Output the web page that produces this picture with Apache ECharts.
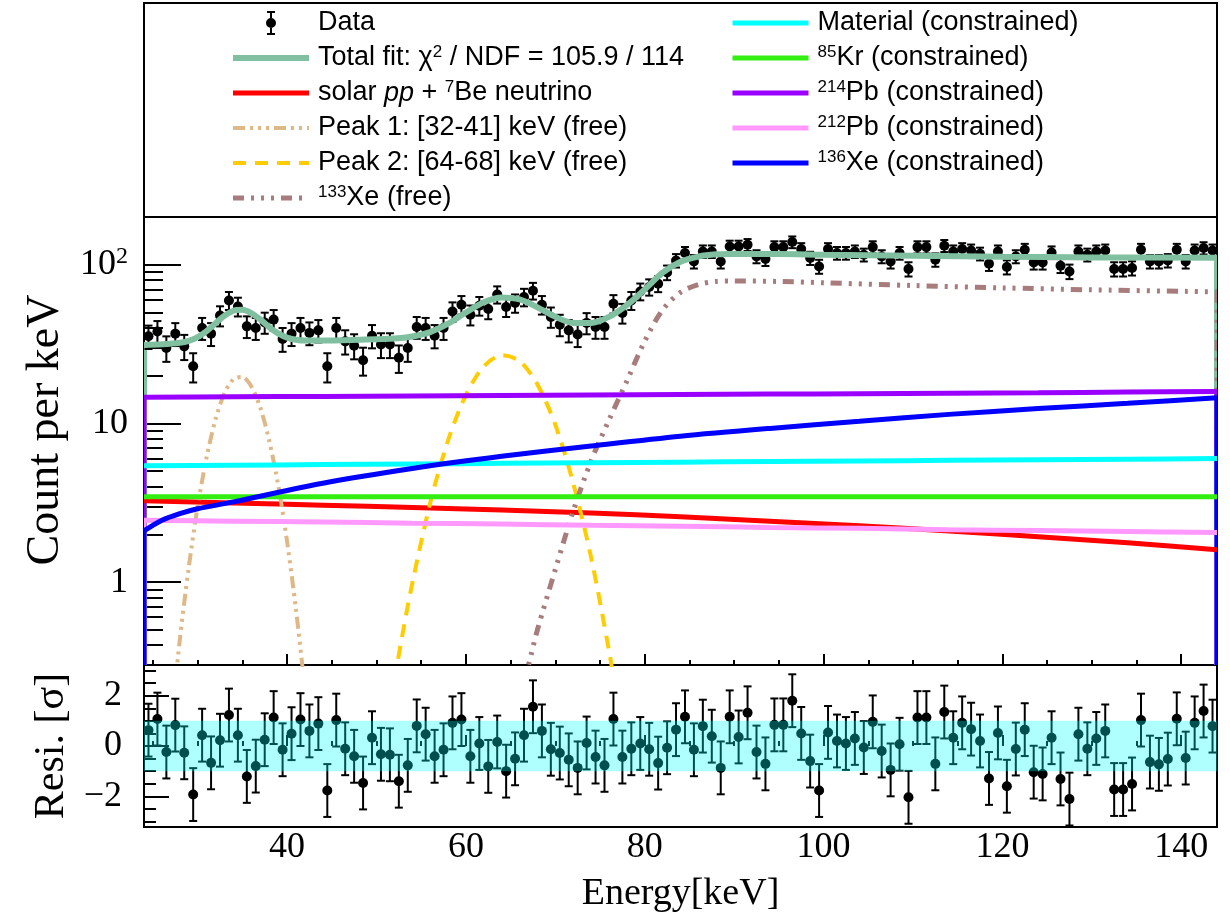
<!DOCTYPE html>
<html>
<head>
<meta charset="utf-8">
<script src="https://cdn.jsdelivr.net/npm/echarts@6/dist/echarts.min.js"></script>
<style>
  html, body { margin: 0; padding: 0; background: #fff; }
  #chart { width: 1230px; height: 916px; }
</style>
</head>
<body>
<div id="chart"></div>
<script>
// Energy binning of the spectrum (1 keV bins from 24 keV)
const binStart = 24;
const binWidth = 1;

// Measured spectrum, count per keV
const counts = [
  35.4, 38.0, 29.9, 36.8, 30.6, 22.9, 39.9, 36.8, 47.8, 59.6,
  54.6, 40.9, 39.9, 43.3, 45.1, 34.1, 36.8, 39.9, 37.2, 38.6,
  22.9, 39.9, 32.9, 30.9, 25.0, 35.7, 31.4, 31.4, 25.9, 29.9,
  40.5, 39.9, 35.7, 39.9, 50.8, 56.0, 48.4, 55.2, 52.6, 65.0,
  54.2, 57.4, 62.6, 68.6, 56.0, 46.9, 41.9, 38.6, 36.3, 43.0,
  40.5, 40.5, 56.8, 49.6, 59.6, 67.9, 72.4, 75.9, 89.4, 106.4,
  118.5, 104.9, 121.3, 121.3, 104.9, 130.4, 130.4, 133.6, 112.8, 108.6,
  129.2, 129.2, 139.0, 125.6, 110.2, 97.6, 125.6, 118.5, 118.5, 121.3,
  115.6, 129.2, 112.8, 104.9, 118.5, 94.0, 129.2, 129.2, 107.5, 131.7,
  121.3, 125.6, 123.0, 117.3, 101.5, 121.3, 96.7, 112.8, 124.3, 103.4,
  103.4, 119.5, 98.6, 90.7, 121.3, 115.6, 121.3, 123.0, 94.0, 94.0,
  95.3, 124.3, 104.9, 104.9, 106.4, 124.3, 104.9, 123.0, 127.4, 123.0
];

// Fit residuals in units of sigma
const residuals = [
  0.63, 1.07, -0.24, 0.83, -0.27, -1.93, 0.43, -0.67, 0.23, 1.23,
  0.43, -1.21, -0.80, 0.25, 1.13, -0.15, 0.49, 1.05, 0.60, 0.89,
  -1.77, 1.03, -0.11, -0.41, -1.47, 0.33, -0.33, -0.35, -1.40, -0.77,
  0.80, 0.47, -0.41, -0.15, 0.92, 1.05, -0.41, 0.10, -0.81, 0.16,
  -1.00, -0.51, 0.43, 1.56, 0.60, -0.13, -0.28, -0.55, -0.87, 0.12,
  -0.44, -0.77, 1.07, -0.44, -0.11, 0.10, -0.13, -0.68, -0.07, 0.65,
  1.16, -0.15, 0.79, 0.39, -0.87, 1.16, 0.36, 1.32, -0.24, -0.71,
  0.84, 0.84, 1.80, 0.50, -0.60, -1.77, 0.54, 0.20, 0.10, 0.30,
  -0.06, 0.96, -0.20, -0.95, 0.07, -2.04, 1.13, 1.13, -0.71, 1.35,
  0.33, 0.92, 0.67, 0.20, -1.29, 0.52, -1.60, -0.12, 0.65, -1.04,
  -1.11, 0.33, -1.31, -2.11, 0.47, -0.11, 0.30, 0.60, -1.73, -1.73,
  -1.51, 1.03, -0.64, -0.73, -0.52, 1.08, -0.48, 0.92, 1.39, 0.79
];
const residualError = 1.05;
const residualBand = [-1, 1];

// Total fit curve
const fitEnergy = [24, 26, 28, 29, 30, 31, 32, 33, 34, 35, 36, 37, 38, 39, 40, 41, 42, 44, 48, 52,
  54, 56, 58, 60, 62, 64, 66, 68, 70, 72, 74, 76, 78, 80, 82, 84, 86, 88, 90, 95, 100, 110, 120, 130, 144];
const fitValues = [31.2, 31.5, 32.2, 33.1, 35.0, 38.2, 42.8, 47.7, 51.3, 52.0, 49.6, 45.2, 40.5, 36.9, 34.7, 33.7, 33.3, 33.3, 33.7, 34.3,
  35.3, 37.6, 42.5, 50.0, 58.0, 62.2, 60.5, 53.9, 47.0, 43.0, 43.0, 46.9, 55.7, 69.9, 89.1, 104.4, 112.6, 116.3, 117.0, 116.9, 115.7, 113.9, 112.3, 111.3, 110.9];

// Free peaks
const peak1Energy = [27, 28, 29, 30, 31, 32, 33, 34, 35, 36, 37, 38, 39, 40, 41, 42];
const peak1Values = [0.12, 0.43, 1.23, 3.0, 6.1, 10.6, 15.5, 19.0, 19.6, 17.1, 12.6, 7.8, 4.1, 1.8, 0.67, 0.21];
const peak2Energy = [52, 53, 54, 56, 58, 60, 62, 64, 66, 68, 70, 72, 74, 76, 77];
const peak2Values = [0.24, 0.5, 0.98, 3.14, 7.8, 15.1, 22.9, 26.9, 24.7, 17.6, 9.8, 4.2, 1.43, 0.37, 0.17];
const xe133Energy = [65, 67, 68, 70, 72, 74, 76, 78, 80, 82, 84, 86, 88, 90, 95, 100, 110, 120, 130, 144];
const xe133Values = [0.12, 0.3, 0.5, 1.2, 2.8, 5.8, 10.5, 18.5, 33, 52, 67, 75, 78.5, 79, 78.5, 77, 74, 71.5, 69.5, 67.5];

// Constrained backgrounds
const bkgEnergy = [24, 34, 44, 54, 64, 74, 84, 94, 104, 114, 124, 134, 144];
const solarValues = [3.25, 3.15, 3.05, 2.95, 2.85, 2.72, 2.58, 2.42, 2.26, 2.10, 1.93, 1.77, 1.60];
const materialValues = [5.40, 5.45, 5.50, 5.55, 5.60, 5.65, 5.70, 5.75, 5.80, 5.85, 5.90, 5.95, 6.00];
const kr85Values = [3.45, 3.45, 3.45, 3.45, 3.45, 3.45, 3.45, 3.45, 3.45, 3.45, 3.45, 3.45, 3.45];
const pb214Values = [14.6, 14.7, 14.8, 14.9, 15.0, 15.1, 15.2, 15.3, 15.4, 15.5, 15.6, 15.75, 15.9];
const pb212Values = [2.45, 2.42, 2.39, 2.35, 2.32, 2.28, 2.25, 2.21, 2.18, 2.14, 2.11, 2.08, 2.05];
const xe136Energy = [24, 26, 28, 30, 34, 44, 54, 64, 74, 84, 94, 104, 114, 124, 134, 144];
const xe136Values = [2.1, 2.45, 2.7, 2.9, 3.2, 4.2, 5.2, 6.2, 7.2, 8.3, 9.3, 10.3, 11.4, 12.4, 13.4, 14.5];

// Axis ticks
const xMajorTicks = [40, 60, 80, 100, 120, 140];
const xMinorTicks = [25, 30, 35, 45, 50, 55, 65, 70, 75, 85, 90, 95, 105, 110, 115, 125, 130, 135];
const yMajorTicks = [1, 10, 100];
const yMinorTicks = [0.4, 0.5, 0.6, 0.7, 0.8, 0.9, 2, 3, 4, 5, 6, 7, 8, 9, 20, 30, 40, 50, 60, 70, 80, 90];
const resMajorTicks = [-2, 0, 2];
const resMinorTicks = [-3, -2.5, -1.5, -1, -0.5, 0.5, 1, 1.5, 2.5, 3];

const SERIF = 'Liberation Serif, Times New Roman, serif';
const SANS = 'Liberation Sans, Arial, Helvetica, sans-serif';

const energies = counts.map((_, i) => binStart + (i + 0.5) * binWidth);
const xMin = binStart;
const xMax = binStart + counts.length * binWidth;

const chart = echarts.init(document.getElementById('chart'), null, { renderer: 'canvas' });

function xAxisDef(gridIndex, ticks, len, withLabels) {
  return {
    type: 'value', gridIndex, min: xMin, max: xMax, position: 'bottom',
    axisLine: { show: false }, splitLine: { show: false },
    axisTick: { show: true, inside: true, length: len, customValues: ticks,
      lineStyle: { color: '#000', width: 2 } },
    axisLabel: withLabels ? {
      customValues: xMajorTicks, fontFamily: SERIF, fontSize: 36, color: '#000', margin: 3
    } : { show: false },
    name: withLabels ? 'Energy[keV]' : '',
    nameLocation: 'middle', nameGap: 48,
    nameTextStyle: { fontFamily: SERIF, fontSize: 38, color: '#000' }
  };
}

function curve(name, xs, ys, color, width, dash) {
  return {
    type: 'line', name, xAxisIndex: 0, yAxisIndex: 0,
    data: xs.map((x, i) => [x, ys[i]]),
    symbol: 'none', smooth: 0.3, clip: true, silent: true,
    lineStyle: { color, width, type: dash || 'solid' },
    itemStyle: { color }
  };
}

// vertical drop of a curve at the edges of the fit range
function edgeDrop(name, xs, ys, color, width, dash) {
  return {
    type: 'custom', name: name + '-edge', xAxisIndex: 0, yAxisIndex: 0, clip: true, silent: true,
    data: [[xs[0], ys[0]], [xs[xs.length - 1], ys[ys.length - 1]]],
    renderItem(params, api) {
      const p = api.coord([api.value(0), api.value(1)]);
      const bottom = params.coordSys.y + params.coordSys.height;
      return {
        type: 'line',
        shape: { x1: p[0], y1: p[1], x2: p[0], y2: bottom },
        style: { stroke: color, lineWidth: width, lineDash: dash || null }
      };
    }
  };
}

function errorMarks(color) {
  return function (params, api) {
    const x = api.value(0);
    const p = api.coord([x, api.value(1)]);
    const lo = api.coord([x, api.value(2)]);
    const hi = api.coord([x, api.value(3)]);
    const cap = 4;
    const st = { stroke: color, lineWidth: 2 };
    return {
      type: 'group',
      children: [
        { type: 'line', shape: { x1: p[0], y1: lo[1], x2: p[0], y2: hi[1] }, style: st },
        { type: 'line', shape: { x1: p[0] - cap, y1: hi[1], x2: p[0] + cap, y2: hi[1] }, style: st },
        { type: 'line', shape: { x1: p[0] - cap, y1: lo[1], x2: p[0] + cap, y2: lo[1] }, style: st },
        { type: 'circle', shape: { cx: p[0], cy: p[1], r: 5 }, style: { fill: color } }
      ]
    };
  };
}

const styles = {
  fit: ['#80c0a0', 6, null],
  solar: ['#ff0000', 5, null],
  peak1: ['#deb887', 4, [12, 5, 3, 5, 3, 5, 3, 5]],
  peak2: ['#ffcc00', 4, [13, 9]],
  xe133: ['#a87c7c', 5, [11, 7, 3, 7, 3, 7, 3, 7]],
  material: ['#00ffff', 5, null],
  kr85: ['#33ee11', 5, null],
  pb214: ['#9900ff', 5, null],
  pb212: ['#ff99ff', 5, null],
  xe136: ['#0000ff', 5, null]
};

const legendText = {
  'Data': 'Data',
  'Total fit': 'Total fit: χ{sup|2} / NDF = 105.9 / 114',
  'solar': 'solar {it|pp} + {sup|7}Be neutrino',
  'Peak 1': 'Peak 1: [32-41] keV (free)',
  'Peak 2': 'Peak 2: [64-68] keV (free)',
  'Xe133': '{sup|133}Xe (free)',
  'Material': 'Material (constrained)',
  'Kr85': '{sup|85}Kr (constrained)',
  'Pb214': '{sup|214}Pb (constrained)',
  'Pb212': '{sup|212}Pb (constrained)',
  'Xe136': '{sup|136}Xe (constrained)'
};

const legendTextStyle = {
  fontFamily: SANS, fontSize: 27, color: '#000', lineHeight: 28, padding: [0, 0, 0, 4],
  rich: {
    sup: { fontFamily: SANS, fontSize: 17, lineHeight: 17, verticalAlign: 'top', color: '#000' },
    it: { fontFamily: SANS, fontSize: 27, fontStyle: 'italic', color: '#000' }
  }
};

// error-bar marker: cap, stem, dot, stem, cap (non-overlapping pieces)
const dataIcon = 'path://M1 0h8v2h-8z M4 2h2v5h-2z M0 12a5 5 0 1 1 10 0a5 5 0 1 1 -10 0z M4 17h2v5h-2z M1 22h8v2h-8z';

function legendDef(left, names) {
  return {
    orient: 'vertical', left, top: 4, itemWidth: 76, itemHeight: 24, itemGap: 7,
    selectedMode: false, symbolKeepAspect: true,
    itemStyle: { opacity: 0 },
    lineStyle: { width: 'inherit' },
    data: names.map(n => n === 'Data'
      ? { name: n, icon: dataIcon, itemStyle: { opacity: 1, color: '#000' } }
      : { name: n }),
    formatter: n => legendText[n],
    textStyle: legendTextStyle
  };
}

const series = [];
function addCurve(key, name, xs, ys, withEdges) {
  const [c, w, d] = styles[key];
  series.push(curve(name, xs, ys, c, w, d));
  if (withEdges) series.push(edgeDrop(name, xs, ys, c, w, d));
}
addCurve('fit', 'Total fit', fitEnergy, fitValues, true);
addCurve('solar', 'solar', bkgEnergy, solarValues, true);
addCurve('peak1', 'Peak 1', peak1Energy, peak1Values, false);
addCurve('peak2', 'Peak 2', peak2Energy, peak2Values, false);
addCurve('xe133', 'Xe133', xe133Energy, xe133Values, true);
addCurve('material', 'Material', bkgEnergy, materialValues, true);
addCurve('kr85', 'Kr85', bkgEnergy, kr85Values, true);
addCurve('pb214', 'Pb214', bkgEnergy, pb214Values, true);
addCurve('pb212', 'Pb212', bkgEnergy, pb212Values, true);
addCurve('xe136', 'Xe136', xe136Energy, xe136Values, true);

// data points with Poisson errors
series.push({
  type: 'custom', name: 'Data', xAxisIndex: 0, yAxisIndex: 0, clip: true, silent: true,
  itemStyle: { color: '#000' },
  data: energies.map((e, i) => {
    const err = Math.sqrt(counts[i]);
    return [e, counts[i], counts[i] - err, counts[i] + err];
  }),
  renderItem: errorMarks('#000')
});

// residual points
series.push({
  type: 'custom', name: 'Residual', xAxisIndex: 2, yAxisIndex: 2, clip: true, silent: true,
  itemStyle: { color: '#000' },
  data: energies.map((e, i) => [e, residuals[i], residuals[i] - residualError, residuals[i] + residualError]),
  renderItem: errorMarks('#000')
});

// translucent ±1 sigma band over the residuals
series.push({
  type: 'custom', name: 'Band', xAxisIndex: 2, yAxisIndex: 2, clip: true, silent: true, z: 5,
  data: [[xMin, residualBand[1], xMax, residualBand[0]]],
  renderItem(params, api) {
    const a = api.coord([api.value(0), api.value(1)]);
    const b = api.coord([api.value(2), api.value(3)]);
    return {
      type: 'rect',
      shape: { x: a[0], y: a[1], width: b[0] - a[0], height: b[1] - a[1] },
      style: { fill: 'rgba(0,255,255,0.31)' }
    };
  }
});

const option = {
  animation: false,
  backgroundColor: '#fff',
  grid: [
    { left: 144, top: 217, width: 1073, height: 448, show: true, borderColor: '#000', borderWidth: 2, backgroundColor: 'transparent' },
    { left: 144, top: 665, width: 1073, height: 162, show: true, borderColor: '#000', borderWidth: 2, backgroundColor: 'transparent' }
  ],
  xAxis: [
    xAxisDef(0, xMajorTicks, 11, false),
    xAxisDef(0, xMinorTicks, 5, false),
    xAxisDef(1, xMajorTicks, 11, true),
    xAxisDef(1, xMinorTicks, 5, false)
  ],
  yAxis: [
    {
      type: 'log', logBase: 10, gridIndex: 0, min: 0.3, max: 200, position: 'left',
      axisLine: { show: false }, splitLine: { show: false },
      axisTick: { inside: true, length: 37, customValues: yMajorTicks, lineStyle: { color: '#000', width: 2 } },
      axisLabel: {
        customValues: yMajorTicks, fontFamily: SERIF, fontSize: 36, color: '#000', margin: 16,
        lineHeight: 40,
        formatter: v => Math.round(v) === 100 ? '10{sup|2}' : String(Math.round(v)),
        rich: { sup: { fontFamily: SERIF, fontSize: 24, lineHeight: 24, verticalAlign: 'top', color: '#000' } }
      },
      name: 'Count per keV', nameLocation: 'middle', nameGap: 62,
      nameTextStyle: { fontFamily: SERIF, fontSize: 46, color: '#000', padding: [0, 0, 0, 22] }
    },
    {
      type: 'log', logBase: 10, gridIndex: 0, min: 0.3, max: 200, position: 'left',
      axisLine: { show: false }, splitLine: { show: false },
      axisTick: { inside: true, length: 19, customValues: yMinorTicks, lineStyle: { color: '#000', width: 2 } },
      axisLabel: { show: false }
    },
    {
      type: 'value', gridIndex: 1, min: -3.22, max: 3.22, position: 'left',
      axisLine: { show: false }, splitLine: { show: false },
      axisTick: { inside: true, length: 25, customValues: resMajorTicks, lineStyle: { color: '#000', width: 2 } },
      axisLabel: {
        customValues: resMajorTicks, fontFamily: SERIF, fontSize: 36, color: '#000', margin: 22,
        formatter: v => v < 0 ? '\u2212' + Math.abs(v) : String(v)
      },
      name: 'Resi. [σ]', nameLocation: 'middle', nameGap: 64,
      nameTextStyle: { fontFamily: SERIF, fontSize: 42, color: '#000' }
    },
    {
      type: 'value', gridIndex: 1, min: -3.22, max: 3.22, position: 'left',
      axisLine: { show: false }, splitLine: { show: false },
      axisTick: { inside: true, length: 12, customValues: resMinorTicks, lineStyle: { color: '#000', width: 2 } },
      axisLabel: { show: false }
    }
  ],
  legend: [
    legendDef(225, ['Data', 'Total fit', 'solar', 'Peak 1', 'Peak 2', 'Xe133']),
    legendDef(725, ['Material', 'Kr85', 'Pb214', 'Pb212', 'Xe136'])
  ],
  graphic: [
    {
      type: 'rect', silent: true, z: 100,
      shape: { x: 144, y: 3, width: 1073, height: 214 },
      style: { fill: 'none', stroke: '#000', lineWidth: 2 }
    }
  ],
  series
};

chart.setOption(option);
</script>
</body>
</html>
